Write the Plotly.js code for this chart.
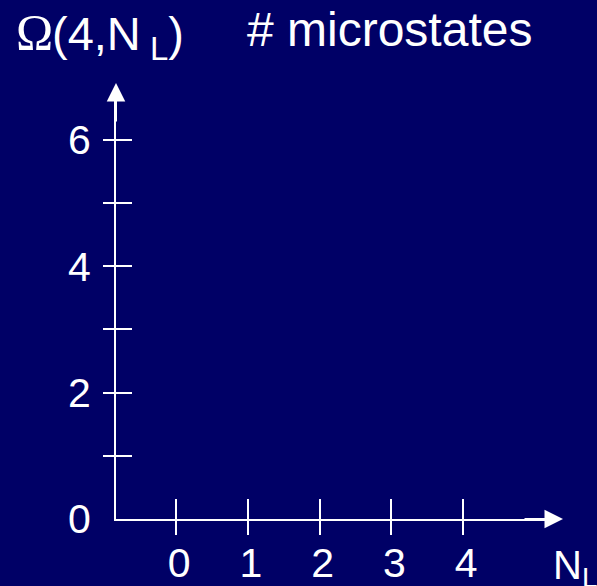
<!DOCTYPE html>
<html>
<head>
<meta charset="utf-8">
<script src="https://cdn.plot.ly/plotly-3.0.1.min.js"></script>
<style>html,body{margin:0;padding:0;background:#000066;}</style>
</head>
<body>
<div id="chart" style="width:597px;height:586px;"></div>
<script>
// ---- data ----
const xTickVals = [0, 1, 2, 3, 4];
const xTickText = ['0', '1', '2', '3', '4'];
const yLabelVals = [0, 2, 4, 6];
const yLabelText = ['0', '2', '4', '6'];
const yTickMarks = [1, 2, 3, 4, 5, 6];
const nL = [];      // no points plotted in the reference
const omega = [];

// ---- layout geometry ----
const W = 597, H = 586;
const M = {l: 116, r: 49, t: 99, b: 67};
const PW = W - M.l - M.r, PH = H - M.t - M.b;
const px2x = p => (p - M.l) / PW;
const px2y = p => (H - M.b - p) / PH;

const bg = '#000066';
const white = '#ffffff';
const sans = 'Liberation Sans, Arial, sans-serif';
const serif = 'Liberation Serif, Times New Roman, serif';
const xRange = [-0.837, 5.184];
const yRange = [0, 6.646];

const traces = [
  {type: 'scatter', mode: 'lines+markers', x: nL, y: omega, xaxis: 'x', yaxis: 'y', hoverinfo: 'skip'},
  {type: 'scatter', mode: 'markers', x: [], y: [], xaxis: 'x2', yaxis: 'y2', hoverinfo: 'skip'},
  {type: 'scatter', mode: 'markers', x: [], y: [], xaxis: 'x', yaxis: 'y3', hoverinfo: 'skip'}
];

const baseAxis = {showgrid: false, zeroline: false, fixedrange: true, tickcolor: white, tickwidth: 2};

const layout = {
  width: W, height: H,
  margin: {l: M.l, r: M.r, t: M.t, b: M.b, pad: 0},
  paper_bgcolor: bg, plot_bgcolor: bg,
  showlegend: false,
  font: {family: sans, color: white},
  xaxis: Object.assign({}, baseAxis, {
    range: xRange, tickmode: 'array', tickvals: xTickVals, ticktext: xTickText,
    ticks: 'inside', ticklen: 20, showline: true, linecolor: white, linewidth: 2,
    tickfont: {family: sans, size: 41, color: white}, ticklabelshift: 3, ticklabelstandoff: 7
  }),
  xaxis2: Object.assign({}, baseAxis, {
    range: xRange, overlaying: 'x', anchor: 'y', tickmode: 'array', tickvals: xTickVals,
    ticks: 'outside', ticklen: 15, showticklabels: false, showline: false
  }),
  yaxis: Object.assign({}, baseAxis, {
    range: yRange, tickmode: 'array', tickvals: yLabelVals, ticktext: yLabelText,
    ticks: '', showline: true, linecolor: white, linewidth: 2,
    tickfont: {family: sans, size: 41, color: white}, ticklabelstandoff: 15
  }),
  yaxis2: Object.assign({}, baseAxis, {
    range: yRange, overlaying: 'y', anchor: 'x', side: 'left', tickmode: 'array', tickvals: yTickMarks,
    ticks: 'outside', ticklen: 12, showticklabels: false, showline: false
  }),
  yaxis3: Object.assign({}, baseAxis, {
    range: yRange, overlaying: 'y', anchor: 'x', side: 'left', tickmode: 'array', tickvals: yTickMarks,
    ticks: 'inside', ticklen: 16, showticklabels: false, showline: false
  }),
  annotations: [
    {xref: 'paper', yref: 'paper', x: px2x(14), y: px2y(32), xanchor: 'left', yanchor: 'middle',
     showarrow: false, font: {family: serif, size: 50, color: white}, text: 'Ω'},
    {xref: 'paper', yref: 'paper', x: px2x(50), y: px2y(37), xanchor: 'left', yanchor: 'middle',
     showarrow: false, font: {family: sans, size: 47, color: white},
     text: '(4,N<sub>\u00A0L</sub>)'},
    {xref: 'paper', yref: 'paper', x: px2x(245), y: px2y(30), xanchor: 'left', yanchor: 'middle',
     showarrow: false, font: {family: sans, size: 48, color: white},
     text: '# microstates'},
    {xref: 'paper', yref: 'paper', x: px2x(551), y: px2y(568), xanchor: 'left', yanchor: 'middle',
     showarrow: false, font: {family: sans, size: 40, color: white},
     text: 'N<sub>L</sub>'},
    {xref: 'paper', yref: 'paper', x: 0, y: px2y(83), showarrow: true, text: '',
     ax: 0, ay: 40, arrowhead: 2, arrowsize: 1.85, arrowwidth: 2, arrowcolor: white, standoff: 0},
    {xref: 'paper', yref: 'paper', x: px2x(563), y: 0, showarrow: true, text: '',
     ax: -40, ay: 0, arrowhead: 2, arrowsize: 1.85, arrowwidth: 2, arrowcolor: white, standoff: 0}
  ]
};

Plotly.newPlot('chart', traces, layout, {displayModeBar: false, staticPlot: true});
</script>
</body>
</html>
